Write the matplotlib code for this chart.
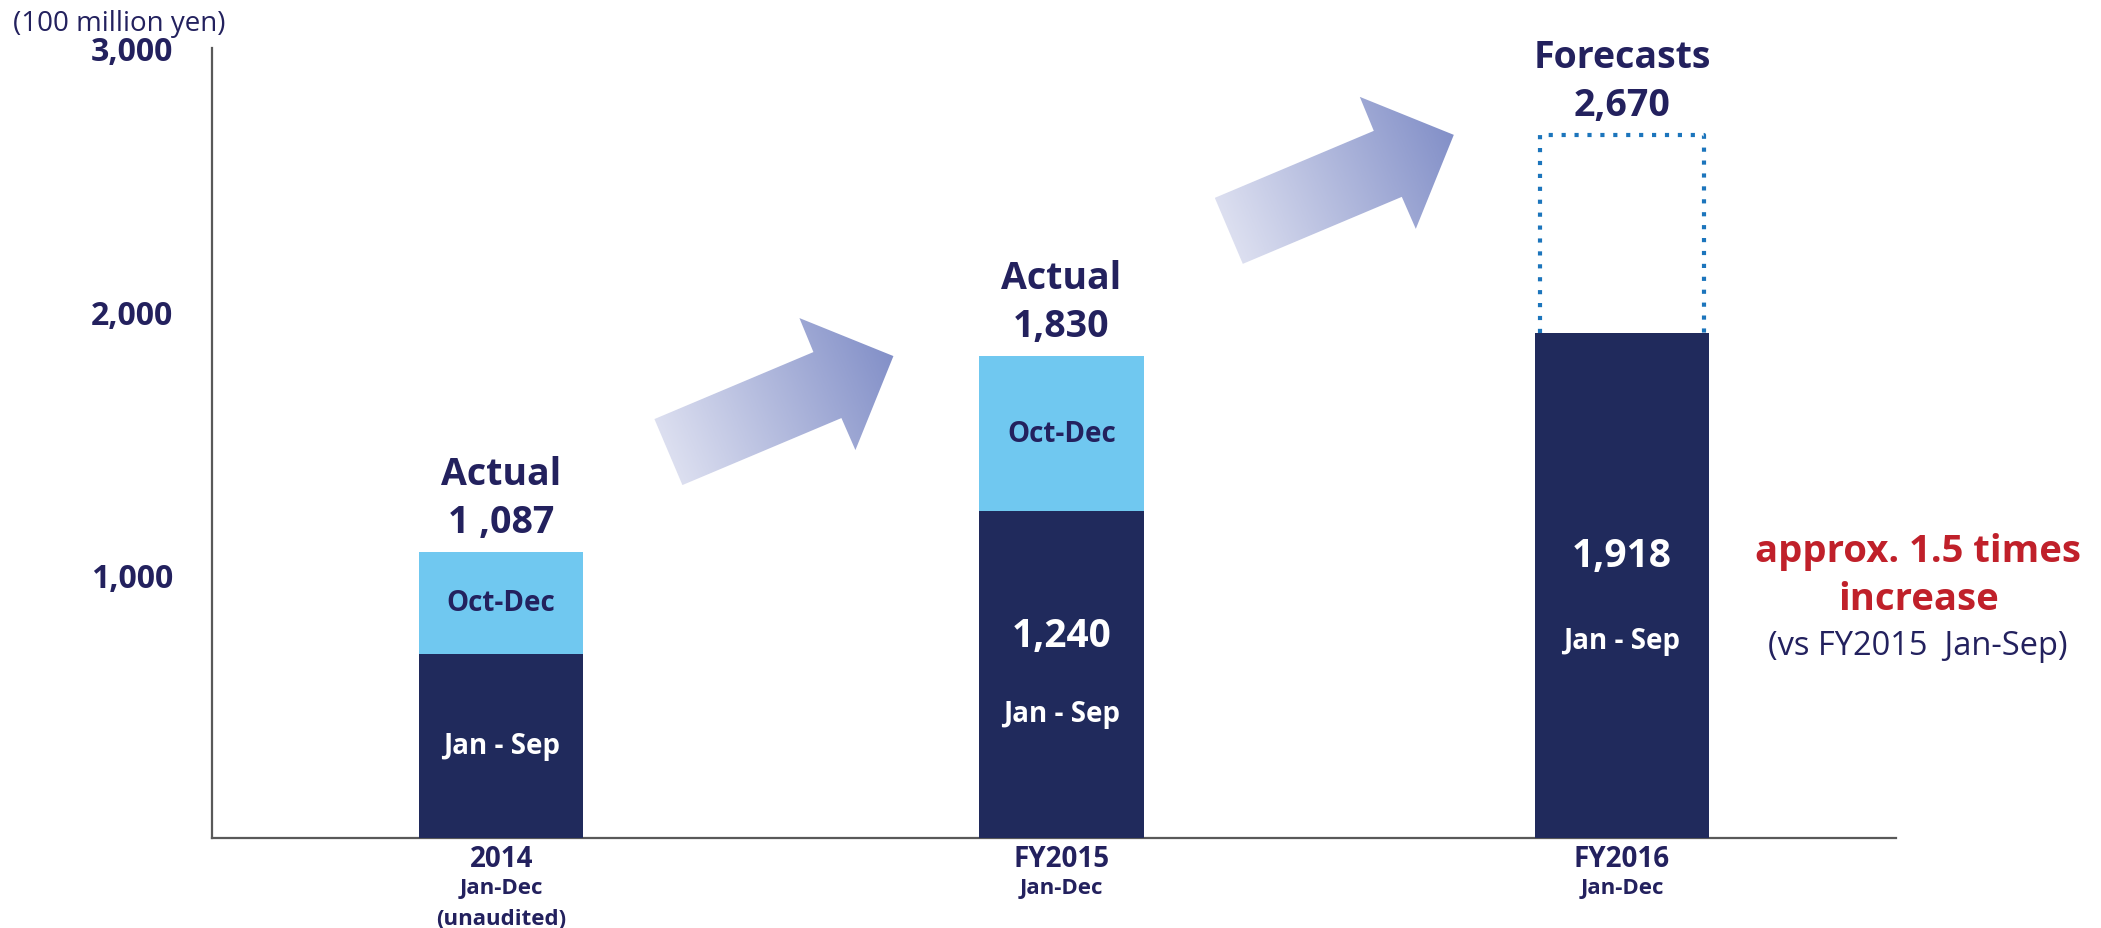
import numpy as np
import matplotlib.pyplot as plt
from matplotlib.patches import Polygon
from matplotlib.colors import LinearSegmentedColormap

# data (100 million yen)
periods = ["2014", "FY2015", "FY2016"]
period_notes = [["Jan-Dec", "(unaudited)"], ["Jan-Dec"], ["Jan-Dec"]]
status = ["Actual", "Actual", "Forecasts"]
jan_sep = [700, 1240, 1918]
oct_dec = [387, 590, 752]
totals = [1087, 1830, 2670]
total_labels = ["1 ,087", "1,830", "2,670"]
jan_sep_labels = [None, "1,240", "1,918"]
yticks = [1000, 2000, 3000]

NAVY_TEXT = "#23215e"
NAVY_BAR = "#202a5c"
LIGHT_BLUE = "#70c8f0"
RED = "#c0202a"
DOT_BLUE = "#1c75bc"
AXIS_GRAY = "#595959"

plt.rcParams["font.family"] = ["Open Sans", "DejaVu Sans"]
narrow = ["Liberation Sans Narrow", "Open Sans"]

fig = plt.figure(figsize=(21.01, 9.29), dpi=100)
ax = fig.add_axes([0.1009, 0.0969, 0.8015, 0.8504])
x = np.arange(len(periods))
xlim = (-0.516, 2.489)
ylim = (0, 3000)

# stacked bars (FY2016 Oct-Dec is a forecast -> dotted outline)
widths = [0.293, 0.293, 0.31]
ax.bar(x, jan_sep, width=widths, color=NAVY_BAR, zorder=3)
ax.bar(x[:2], oct_dec[:2], bottom=jan_sep[:2], width=widths[:2],
       color=LIGHT_BLUE, zorder=3)
hw = 0.146
ax.plot([x[2] - hw, x[2] - hw, x[2] + hw, x[2] + hw],
        [jan_sep[2], totals[2], totals[2], jan_sep[2]],
        color=DOT_BLUE, lw=3, ls=(0, (1, 2.1)), dash_capstyle="butt", zorder=2)

ax.set_xlim(*xlim)
ax.set_ylim(*ylim)

# gradient arrows between the bars (shape in pixels, tip anchored in data)
arrow_shape = np.array([[-239, -63], [-80, 4], [-94, 38], [0, 0],
                        [-38, -94], [-52, -62], [-211, -129]], dtype=float)
cmap = LinearSegmentedColormap.from_list("arr", ["#dcdff0", "#8390c8"])
to_data = ax.transData.inverted()
for i in range(len(periods) - 1):
    tip = ax.transData.transform((x[i] + 0.7, totals[i + 1]))
    pts_disp = tip + arrow_shape
    pts = to_data.transform(pts_disp)
    poly = Polygon(pts, closed=True, facecolor="none", edgecolor="none")
    ax.add_patch(poly)
    tail = (pts_disp[0] + pts_disp[6]) / 2
    d = tip - tail
    x0, y0 = pts_disp.min(axis=0)
    x1, y1 = pts_disp.max(axis=0)
    gx, gy = np.meshgrid(np.linspace(x0, x1, 200), np.linspace(y0, y1, 120))
    t = ((gx - tail[0]) * d[0] + (gy - tail[1]) * d[1]) / (d @ d)
    (dx0, dy0), (dx1, dy1) = to_data.transform([[x0, y0], [x1, y1]])
    im = ax.imshow(np.clip(t, 0, 1), extent=[dx0, dx1, dy0, dy1], origin="lower",
                   cmap=cmap, vmin=0, vmax=1, aspect="auto", zorder=1)
    im.set_clip_path(poly)

ax.set_xlim(*xlim)
ax.set_ylim(*ylim)

# headers and totals above bars
for i in range(len(periods)):
    ax.annotate(total_labels[i], (x[i], totals[i]), xytext=(0, 21.6),
                textcoords="offset points", ha="center", va="center",
                fontsize=27, fontweight="bold", color=NAVY_TEXT)
    ax.annotate(status[i], (x[i], totals[i]), xytext=(0, 56),
                textcoords="offset points", ha="center", va="center",
                fontsize=27, fontweight="bold", color=NAVY_TEXT)

# labels inside bars
value_frac = [None, 0.62, 0.56]
label_frac = [0.5, 0.38, 0.39]
for i in range(len(periods)):
    if i < 2:
        ax.text(x[i], jan_sep[i] + oct_dec[i] / 2, "Oct-Dec", ha="center",
                va="center", fontsize=20, fontweight="bold", color=NAVY_TEXT,
                zorder=4)
    if jan_sep_labels[i]:
        ax.text(x[i], jan_sep[i] * value_frac[i], jan_sep_labels[i],
                ha="center", va="center", fontsize=28, fontweight="bold",
                color="white", zorder=4)
    ax.text(x[i], jan_sep[i] * label_frac[i], "Jan - Sep", ha="center",
            va="center", fontsize=20, fontweight="bold", color="white", zorder=4)

# axes styling
for side in ["top", "right"]:
    ax.spines[side].set_visible(False)
for side in ["left", "bottom"]:
    ax.spines[side].set_color(AXIS_GRAY)
    ax.spines[side].set_linewidth(1.6)
ax.set_yticks(yticks, labels=[f"{v:,}" for v in yticks])
ax.tick_params(axis="y", length=0, pad=28, labelsize=23, labelcolor=NAVY_TEXT)
for lbl in ax.get_yticklabels():
    lbl.set_fontweight("bold")
ax.set_xticks(x, periods)
ax.tick_params(axis="x", length=0, pad=4, labelsize=20, labelcolor=NAVY_TEXT)
for lbl in ax.get_xticklabels():
    lbl.set_fontweight("bold")
    lbl.set_family(narrow)
for i, notes in enumerate(period_notes):
    for j, note in enumerate(notes):
        ax.annotate(note, (x[i], 0), xycoords=("data", "axes fraction"),
                    xytext=(0, -36 - 22 * j), textcoords="offset points",
                    ha="center", va="center", fontsize=16, fontweight="bold",
                    color=NAVY_TEXT, family=narrow)

fig.text(119 / 2101, 1 - 24 / 929, "(100 million yen)", ha="center",
         va="center", fontsize=20, color=NAVY_TEXT)
fig.text(0.913, 0.406, "approx. 1.5 times", ha="center", va="center",
         fontsize=27.5, fontweight="bold", color=RED)
fig.text(0.913, 0.354, "increase", ha="center", va="center",
         fontsize=27.5, fontweight="bold", color=RED)
fig.text(0.913, 0.304, "(vs FY2015  Jan-Sep)", ha="center", va="center",
         fontsize=23.5, color=NAVY_TEXT)

fig.savefig("out.png", dpi=100)
